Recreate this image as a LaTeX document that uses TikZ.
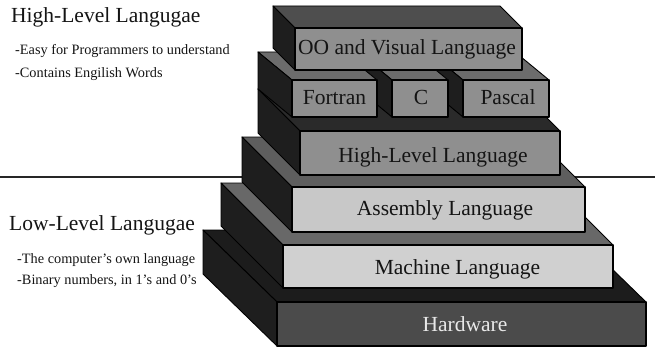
\documentclass[tikz,border=0pt]{standalone}
\usepackage{fontspec}
\setmainfont{Liberation Serif}

\definecolor{sidegray}{HTML}{1E1E1E}
\definecolor{hwfront}{HTML}{4B4B4B}
\definecolor{hwtop}{HTML}{1C1C1C}
\definecolor{hwtext}{HTML}{E8E8E8}
\definecolor{mlfront}{HTML}{D0D0D0}
\definecolor{mltop}{HTML}{686868}
\definecolor{alfront}{HTML}{C8C8C8}
\definecolor{altop}{HTML}{5E5E5E}
\definecolor{hlfront}{HTML}{8F8F8F}
\definecolor{hltop}{HTML}{2A2A2A}
\definecolor{rowfront}{HTML}{8F8F8F}
\definecolor{rowtop}{HTML}{6C6C6C}
\definecolor{oofront}{HTML}{8F8F8F}
\definecolor{ootop}{HTML}{4E4E4E}
\definecolor{inktext}{HTML}{141414}

% One block of the stack: front rectangle (left, right, top, bottom),
% receding depth (dx, dy) towards the upper left, top and front colours.
\newcommand{\slabblock}[8]{%
  \filldraw[edge, fill=#7] (#1,#3) -- (#2,#3) -- (#2-#5,#3-#6) -- (#1-#5,#3-#6) -- cycle;
  \filldraw[sideface] (#1,#3) -- (#1,#4) -- (#1-#5,#4-#6) -- (#1-#5,#3-#6) -- cycle;
  \filldraw[frontface, fill=#8] (#1,#3) rectangle (#2,#4);
}

\begin{document}
\begin{tikzpicture}[x=1pt, y=-1pt,
  edge/.style={draw=black, line width=0.9pt, line join=round},
  sideface/.style={edge, fill=sidegray},
  frontface/.style={draw=black, line width=1.5pt, line join=round},
  lbl/.style={font=\fontsize{21.5}{24}\selectfont, text=inktext, inner sep=0pt,
              text height=14pt, text depth=0pt},
  heading/.style={font=\fontsize{21.5}{24}\selectfont, text=inktext, inner sep=0pt, anchor=base west},
  note/.style={font=\fontsize{14.3}{16}\selectfont, text=inktext, inner sep=0pt, anchor=base west},
]
\useasboundingbox (0,0) rectangle (655,350);

% separator between the high-level and low-level halves
\coordinate (sepL) at (0,177);
\coordinate (sepR) at (655,177);
\draw[line width=1.4pt, black!85] (sepL) -- (sepR);

% the stack, bottom to top
\slabblock{277}{646}{302}{346}{74}{72}{hwtop}{hwfront}
\slabblock{283}{613}{245}{288}{62}{62}{mltop}{mlfront}
\slabblock{292}{585}{187}{232}{50}{50}{altop}{alfront}
\slabblock{300}{560}{131}{175}{42}{42}{hltop}{hlfront}
\slabblock{463}{549}{80}{117}{34}{28}{rowtop}{rowfront}
\slabblock{392}{448}{80}{117}{34}{28}{rowtop}{rowfront}
\slabblock{292}{377}{80}{117}{34}{28}{rowtop}{rowfront}
\slabblock{295}{522}{28}{70}{22}{22}{ootop}{oofront}

% block labels
\node[lbl] (oo)   at (407,48)   {OO and Visual Language};
\node[lbl] (fort) at (334.5,98) {Fortran};
\node[lbl] (clang) at (421,98)  {C};
\node[lbl] (pasc) at (508,98)   {Pascal};
\node[lbl] (hll)  at (433,155)  {High-Level Language};
\node[lbl] (asm)  at (445,208)  {Assembly Language};
\node[lbl] (mach) at (457.5,267) {Machine Language};
\node[lbl, text=hwtext] (hw) at (465,324) {Hardware};

% side notes
\node[heading] (hightitle) at (11,23) {High-Level Langugae};
\node[note] (highone) at (15,55) {-Easy for Programmers to understand};
\node[note] (hightwo) at (15,78) {-Contains Engilish Words};
\node[heading] (lowtitle) at (9,230) {Low-Level Langugae};
\node[note] (lowone) at (17,263) {-The computer’s own language};
\node[note] (lowtwo) at (17,284) {-Binary numbers, in 1’s and 0’s};
\end{tikzpicture}
\end{document}
